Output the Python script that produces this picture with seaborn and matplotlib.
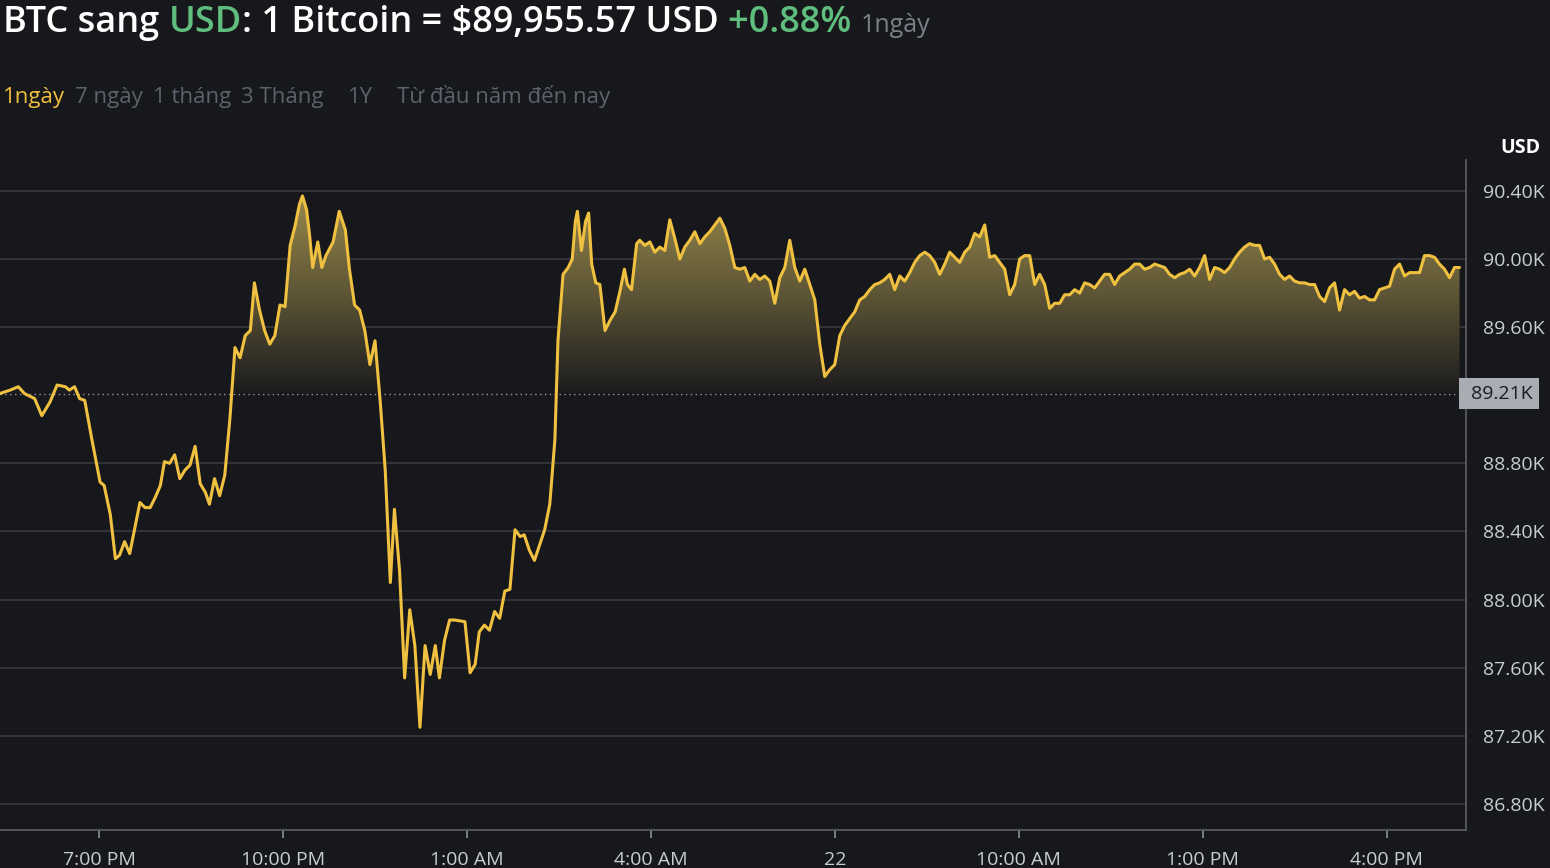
import numpy as np
import pandas as pd
import matplotlib
matplotlib.use("Agg")
import matplotlib.pyplot as plt
import seaborn as sns
from matplotlib.path import Path
from matplotlib.colors import LinearSegmentedColormap

prices_k = [89.21,89.23,89.25,89.21,89.18,89.08,89.16,89.26,89.25,89.23,89.25,89.18,89.17,88.94,88.69,88.67,88.50,88.24,88.26,88.34,88.27,88.57,88.54,88.54,88.60,88.67,88.81,88.80,88.85,88.71,88.76,88.79,88.90,88.68,88.63,88.56,88.71,88.61,88.73,89.06,89.48,89.42,89.55,89.58,89.86,89.70,89.58,89.50,89.55,89.73,89.72,90.08,90.20,90.32,90.37,90.29,90.14,89.95,90.10,89.95,90.02,90.10,90.28,90.17,89.94,89.73,89.70,89.58,89.38,89.52,89.17,88.76,88.10,88.53,88.17,87.54,87.94,87.73,87.25,87.73,87.56,87.73,87.54,87.76,87.88,87.88,87.87,87.57,87.62,87.81,87.85,87.82,87.93,87.89,88.05,88.06,88.41,88.37,88.38,88.29,88.23,88.32,88.41,88.56,88.94,89.52,89.91,89.95,90.00,90.22,90.28,90.05,90.22,90.27,89.97,89.86,89.85,89.58,89.64,89.69,89.82,89.94,89.85,89.82,90.09,90.11,90.08,90.10,90.04,90.07,90.05,90.23,90.12,90.00,90.07,90.11,90.16,90.09,90.13,90.16,90.20,90.24,90.18,90.08,89.95,89.94,89.95,89.87,89.91,89.88,89.90,89.87,89.74,89.89,89.95,90.11,89.95,89.87,89.94,89.85,89.76,89.50,89.31,89.35,89.38,89.55,89.61,89.65,89.69,89.76,89.78,89.82,89.85,89.86,89.88,89.91,89.82,89.90,89.87,89.92,89.98,90.02,90.04,90.02,89.98,89.91,89.97,90.04,90.01,89.98,90.04,90.07,90.15,90.13,90.20,90.01,90.02,89.98,89.94,89.79,89.85,90.00,90.02,90.02,89.85,89.91,89.85,89.71,89.74,89.74,89.79,89.79,89.82,89.80,89.86,89.85,89.83,89.87,89.91,89.91,89.85,89.90,89.92,89.94,89.97,89.97,89.94,89.95,89.97,89.96,89.95,89.91,89.89,89.91,89.92,89.94,89.90,89.95,90.02,89.88,89.95,89.94,89.92,89.95,90.00,90.04,90.07,90.09,90.08,90.08,90.00,90.01,89.97,89.91,89.88,89.90,89.87,89.86,89.86,89.85,89.85,89.78,89.75,89.83,89.86,89.70,89.82,89.79,89.81,89.77,89.78,89.76,89.76,89.82,89.83,89.84,89.94,89.97,89.90,89.92,89.92,89.92,90.02,90.02,90.01,89.97,89.94,89.89,89.95,89.95]
# sample times, in minutes since 5:23 PM
times_min = ([0,10,18,24,34,41,49,56,64,68,73,78,83,90,98,102,108,113,117,122,127,137,142,147,152,157,161,166,171,176,181,186,191,196,201,205,210,215,220,225,230,235,240,245,249,254,259,264,269,274,279,284,289,293,296,300,303,306,311,315,319,326,332,338,342,347,352,357,362,367,372,377,382,386,391,396,401,406,411,416,421,426,430,435,440,445,455]
             + [460,465,469,474,479,484,489,494,499,504,509,513,518,523,528,533,538]
             + [543,546,551,556,560,563,565,569,573,576,579,583,587]
             + [592,597,602,607,611,614,618,623,626]
             + [631 + 4.89 * i for i in range(164)])
start_label_minutes = 97   # 7:00 PM is 97 min after the first sample
baseline_k = 89.21
ytick_vals = [86.8, 87.2, 87.6, 88.0, 88.4, 88.8, 89.6, 90.0, 90.4]
ytick_labels = ["86.80K","87.20K","87.60K","88.00K","88.40K","88.80K","89.60K","90.00K","90.40K"]
xtick_hours = [0, 3, 6, 9, 12, 15, 18, 21]
xtick_labels = ["7:00 PM","10:00 PM","1:00 AM","4:00 AM","22","10:00 AM","1:00 PM","4:00 PM"]
tabs = ["1ngày", "7 ngày", "1 tháng", "3 Tháng", "1Y", "Từ đầu năm đến nay"]

BG = "#17181c"
LINE = "#f0c040"
GRID = "#34363c"
TXT = "#c9ccd1"
sns.set_theme(style="dark")
plt.rcParams['font.family'] = ['Open Sans', 'DejaVu Sans']

n = min(len(prices_k), len(times_min))
hours = (np.array(times_min[:n]) - start_label_minutes) / 60.0
y = np.array(prices_k[:n])
df = pd.DataFrame({"h": hours, "p": y})

fig = plt.figure(figsize=(15.5, 8.68), dpi=100, facecolor=BG)
ax = fig.add_axes([0, 0.0438, 0.9458, 0.772])
ax.set_facecolor(BG)
xmin, xmax = -1.615, 22.29
ax.set_xlim(xmin, xmax)
ax.set_ylim(86.647, 90.582)

for v in ytick_vals:
    ax.axhline(v, color=GRID, lw=1.3, zorder=0)
ax.axhline(baseline_k, color="#9a9da4", lw=1, ls=(0, (1, 2.5)), zorder=1)

poly = ax.fill_between(hours, y, baseline_k, where=y >= baseline_k, interpolate=True,
                       facecolor="none", edgecolor="none")
paths = poly.get_paths()
if paths:
    comp = Path.make_compound_path(*paths)
    cmap = LinearSegmentedColormap.from_list("g", ["#1b1b1d", "#5e5636", "#998a4c"])
    grad = np.linspace(0, 1, 256).reshape(-1, 1)
    im = ax.imshow(grad, extent=[xmin, xmax, baseline_k, 90.40], origin="lower",
                   aspect="auto", cmap=cmap, zorder=1)
    im.set_clip_path(comp, transform=ax.transData)

sns.lineplot(data=df, x="h", y="p", ax=ax, color=LINE, lw=2.2, zorder=3)

ax.set_xlabel(""); ax.set_ylabel("")
ax.set_xticks(xtick_hours)
ax.set_xticklabels(xtick_labels, color=TXT, fontsize=14)
ax.tick_params(axis="x", length=6, color="#8a8d93", pad=9, bottom=True)
ax.set_yticks(ytick_vals)
ax.yaxis.tick_right()
ax.set_yticklabels(ytick_labels, color=TXT, fontsize=14)
ax.tick_params(axis="y", length=0, pad=12)
for s in ["top", "left"]:
    ax.spines[s].set_visible(False)
ax.spines["right"].set_color("#5a5d63")
ax.spines["bottom"].set_color("#5a5d63")
ax.grid(False)

ax.text(1.0, baseline_k, " 89.21K", transform=ax.get_yaxis_transform(), ha="left", va="center",
        color="#1b1c20", fontsize=14,
        bbox=dict(boxstyle="square,pad=0.35", fc="#a9acb3", ec="none"))
fig.text(1500 / 1550, 1 - 153 / 868, "USD", ha="left", va="baseline",
         color="white", fontsize=14, fontweight="bold")

fig.canvas.draw()
r = fig.canvas.get_renderer()
parts = [("BTC sang ", "white", 26, "semibold"), ("USD", "#5fbd7d", 26, "semibold"),
         (": 1 Bitcoin = $89,955.57 USD ", "white", 26, "semibold"),
         ("+0.88% ", "#5fbd7d", 26, "semibold"), ("1ngày", "#7b7f88", 18, "normal")]
x = 3
for t, c, fs, fw in parts:
    tx = fig.text(x / 1550, 1 - 32 / 868, t, color=c, fontsize=fs, fontweight=fw, va="baseline")
    x += tx.get_window_extent(r).width
x = 3
for i, t in enumerate(tabs):
    tx = fig.text(x / 1550, 1 - 103 / 868, t, color=LINE if i == 0 else "#5d626c",
                  fontsize=16, va="baseline")
    x += tx.get_window_extent(r).width + (10 if i < 3 else 24)

fig.savefig("out.png", dpi=100, facecolor=BG)
